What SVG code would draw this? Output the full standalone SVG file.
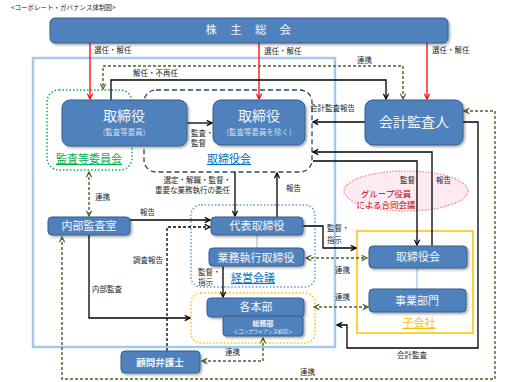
<svg xmlns="http://www.w3.org/2000/svg" width="509" height="382" viewBox="0 0 509 382">
<style>
text{font-family:"Noto Sans CJK JP","Noto Sans CJK SC",sans-serif;}
.box{fill:#4F81BD;stroke:#385D8A;stroke-width:1;filter:url(#sh);}
.bt{fill:#F2F5FA;text-anchor:middle;}
.sub{fill:#D5DFEE;text-anchor:middle;font-size:7.5px;}
.lbl{font-size:7.5px;fill:#262626;}
.ln{fill:none;stroke:#000;stroke-width:1.3;marker-end:url(#ab);}
.red{fill:none;stroke:#FF0000;stroke-width:1.3;marker-end:url(#ar);}
.grn{fill:none;stroke:#4F6228;stroke-width:1.4;stroke-dasharray:3 2;marker-start:url(#ag);marker-end:url(#ag);}
.thin{stroke:#8EB4E3;stroke-width:1;}
</style>
<defs>
<filter id="sh" x="-10%" y="-20%" width="125%" height="150%">
<feDropShadow dx="1.5" dy="1.5" stdDeviation="1" flood-color="#000" flood-opacity="0.35"/>
</filter>
<marker id="ab" viewBox="0 0 8 8" refX="7" refY="4" markerWidth="7" markerHeight="7" markerUnits="userSpaceOnUse" orient="auto-start-reverse"><path d="M1,1 L7,4 L1,7" fill="none" stroke="#000" stroke-width="1.4"/></marker>
<marker id="ar" viewBox="0 0 8 8" refX="7" refY="4" markerWidth="7" markerHeight="7" markerUnits="userSpaceOnUse" orient="auto-start-reverse"><path d="M1,1 L7,4 L1,7" fill="none" stroke="#FF0000" stroke-width="1.4"/></marker>
<marker id="ag" viewBox="0 0 8 8" refX="7" refY="4" markerWidth="7" markerHeight="7" markerUnits="userSpaceOnUse" orient="auto-start-reverse"><path d="M1,1 L7,4 L1,7" fill="none" stroke="#4F6228" stroke-width="1.4"/></marker>
</defs>
<rect width="509" height="382" fill="#fff"/>
<text x="11" y="10" font-size="6.5" fill="#262626">&lt;コーポレート・ガバナンス体制図&gt;</text>

<!-- containers -->
<rect id="outer" x="33" y="58" width="302" height="289" fill="none" stroke="#A6C8EC" stroke-width="2.5"/>
<g id="kansa-iinkai">
<rect x="47" y="90" width="85" height="80" rx="12" fill="none" stroke="#00B050" stroke-width="1.5" stroke-dasharray="1.5 2"/>
<text x="89" y="163" font-size="11" fill="#00B050" text-anchor="middle" text-decoration="underline">監査等委員会</text>
</g>
<g id="torishimariyakukai">
<rect x="144" y="90" width="168" height="82" rx="12" fill="none" stroke="#1F497D" stroke-width="1.3" stroke-dasharray="5 3"/>
<text x="229" y="163" font-size="11" fill="#0070C0" text-anchor="middle" text-decoration="underline">取締役会</text>
</g>
<g id="keiei-kaigi">
<rect x="191" y="205" width="124" height="82" rx="10" fill="none" stroke="#5B9BD5" stroke-width="1.5" stroke-dasharray="1.5 2"/>
<text x="253" y="282" font-size="11" fill="#0070C0" text-anchor="middle" text-decoration="underline">経営会議</text>
</g>
<g id="kakuhonbu-group">
<rect x="191" y="293" width="124" height="50" rx="10" fill="none" stroke="#FFC000" stroke-width="1.5" stroke-dasharray="1.5 2"/>
</g>
<g id="kogaisha">
<rect x="357" y="231" width="116" height="102" fill="none" stroke="#FFC000" stroke-width="1.5"/>
<text x="419" y="327" font-size="11" fill="#FFC000" text-anchor="middle" text-decoration="underline">子会社</text>
</g>
<g id="group-kaigi">
<ellipse cx="406" cy="191" rx="62" ry="20" fill="#FDEAF2" stroke="#FF7C80" stroke-width="1.2" stroke-dasharray="1.5 1.5"/>
<text x="386" y="197" font-size="8.5" fill="#C00000" text-anchor="middle">グループ役員</text>
<text x="386" y="208" font-size="8.5" fill="#C00000" text-anchor="middle">による合同会議</text>
</g>

<!-- connectors -->
<g id="connectors">
<path class="red" d="M90,43 V99"/>
<path class="red" d="M259,43 V99"/>
<path class="red" d="M427,43 V99"/>
<path class="ln" d="M111,100 V80 H386 V99"/>
<path class="ln" d="M187,123 H212"/>
<path class="ln" d="M365,122 H313"/>
<path class="ln" d="M432,246 V152 H313"/>
<path class="ln" d="M313,161 H417 V245"/>
<path class="ln" d="M235,172 V216"/>
<path class="ln" d="M277,217 V173"/>
<path class="ln" d="M130,220 H210"/>
<path class="ln" d="M167,351 V227 H210" stroke-dasharray="3 2"/>
<path class="ln" d="M89,235 V318 H190"/>
<path class="ln" d="M303,226 H323 V248 H356"/>
<path class="ln" d="M223,266 V297"/>
<path class="ln" d="M463,122 H478 V348 H347 V325 H337"/>
<path class="grn" d="M403,99 V66 H103 V89"/>
<path class="grn" d="M89,172 V216"/>
<path class="grn" d="M62,237 V379 H495 V111 H464"/>
<path class="grn" d="M306,258 H367"/>
<path class="grn" d="M314,307 H368"/>
<path class="grn" d="M263,338 V361 H202"/>
<path class="thin" d="M257,235 V248"/>
<path class="thin" d="M417,268 V289"/>
</g>

<!-- nodes -->
<g id="kabunushi-sokai">
<rect class="box" x="50" y="18" width="398" height="25" rx="5"/>
<text class="bt" x="251" y="34" font-size="11.5" letter-spacing="5.3">株 主 総 会</text>
</g>
<g id="torishimariyaku-kansa">
<rect class="box" x="62" y="100" width="125" height="46" rx="8"/>
<text class="bt" x="124" y="121" font-size="14">取締役</text>
<text class="sub" x="124" y="135">(監査等委員)</text>
</g>
<g id="torishimariyaku">
<rect class="box" x="213" y="100" width="92" height="45" rx="8"/>
<text class="bt" x="259" y="121" font-size="14">取締役</text>
<text class="sub" x="259" y="135">(監査等委員を除く)</text>
</g>
<g id="kaikei-kansanin">
<rect class="box" x="365" y="100" width="98" height="45" rx="8"/>
<text class="bt" x="414" y="127" font-size="14">会計監査人</text>
</g>
<g id="naibu-kansashitsu">
<rect class="box" x="48" y="217" width="82" height="18" rx="4"/>
<text class="bt" x="89" y="230" font-size="11">内部監査室</text>
</g>
<g id="daihyo">
<rect class="box" x="211" y="217" width="92" height="18" rx="4"/>
<text class="bt" x="257" y="230" font-size="11">代表取締役</text>
</g>
<g id="gyomu-shikko">
<rect class="box" x="209" y="248" width="95" height="18" rx="4"/>
<text class="bt" x="256" y="262" font-size="11">業務執行取締役</text>
</g>
<g id="kakuhonbu">
<rect class="box" x="207" y="298" width="97" height="19" rx="4"/>
<text class="bt" x="256" y="311" font-size="11">各本部</text>
</g>
<g id="somubu">
<rect class="box" x="223" y="316" width="80" height="20" rx="3"/>
<text class="bt" x="263" y="325.5" font-size="7" font-weight="bold">総務部</text>
<text class="bt" x="263" y="333" font-size="5">＜コンプライアンス統括＞</text>
</g>
<g id="komon-bengoshi">
<rect class="box" x="121" y="351" width="79" height="22" rx="4"/>
<text class="bt" x="160" y="365.5" font-size="9.5" font-weight="bold">顧問弁護士</text>
</g>
<g id="ko-torishimariyakukai">
<rect class="box" x="369" y="246" width="98" height="22" rx="4"/>
<text class="bt" x="418" y="261" font-size="11">取締役会</text>
</g>
<g id="jigyo-bumon">
<rect class="box" x="369" y="289" width="97" height="23" rx="4"/>
<text class="bt" x="417" y="304.5" font-size="11">事業部門</text>
</g>

<!-- labels -->
<g id="labels" class="lbl">
<text class="lbl" x="94" y="53">選任・解任</text>
<text class="lbl" x="264" y="54">選任・解任</text>
<text class="lbl" x="432" y="53">選任・解任</text>
<text class="lbl" x="133" y="76">解任・不再任</text>
<text class="lbl" x="357" y="63">連携</text>
<text class="lbl" x="310" y="111">会計監査報告</text>
<text class="lbl" x="191" y="136">監査・</text>
<text class="lbl" x="191" y="146">監督</text>
<text class="lbl" x="231" y="183" text-anchor="end">選定・解職・監督・</text>
<text class="lbl" x="230" y="193" text-anchor="end">重要な業務執行の委任</text>
<text class="lbl" x="286" y="191">報告</text>
<text class="lbl" x="400" y="183">監督</text>
<text class="lbl" x="436" y="183">報告</text>
<text class="lbl" x="95" y="200">連携</text>
<text class="lbl" x="140" y="215">報告</text>
<text class="lbl" x="133" y="263">調査報告</text>
<text class="lbl" x="92" y="292">内部監査</text>
<text class="lbl" x="327" y="231">監督・</text>
<text class="lbl" x="327" y="243">指示</text>
<text class="lbl" x="335" y="273">連携</text>
<text class="lbl" x="198" y="275">監督・</text>
<text class="lbl" x="198" y="285">指示</text>
<text class="lbl" x="335" y="300">連携</text>
<text class="lbl" x="225" y="355">連携</text>
<text class="lbl" x="397" y="358">会計監査</text>
<text class="lbl" x="300" y="375">連携</text>
</g>
</svg>
